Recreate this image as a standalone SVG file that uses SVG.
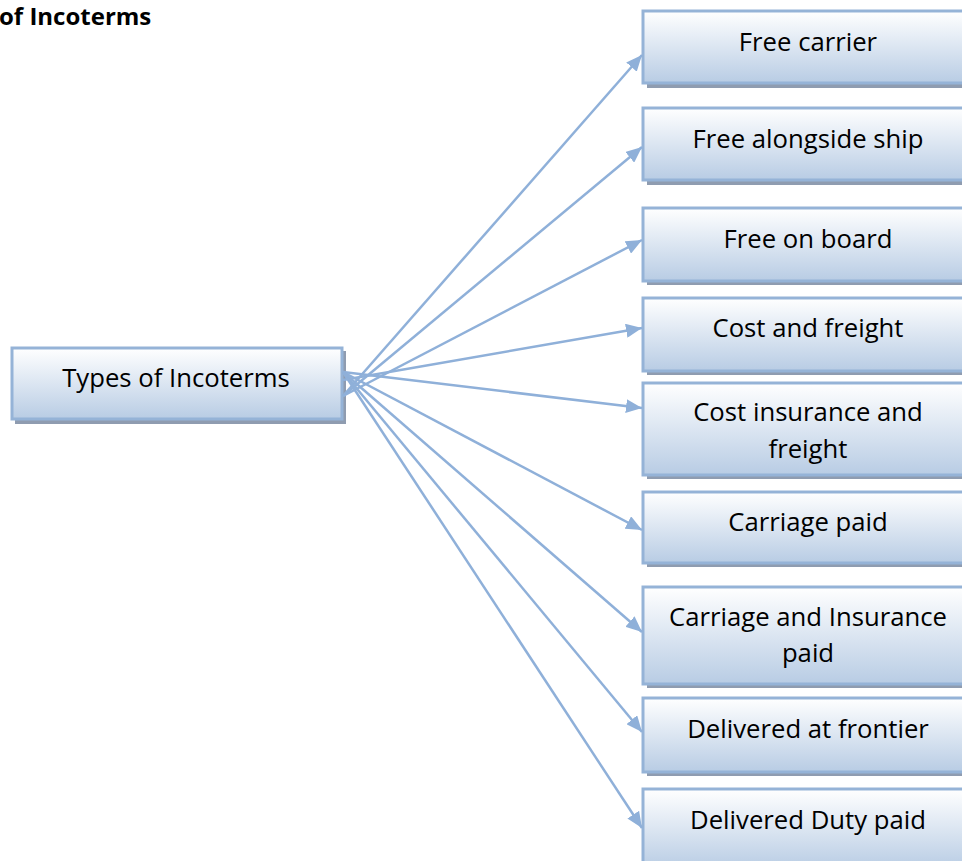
<svg xmlns="http://www.w3.org/2000/svg" width="962" height="861" viewBox="0 0 962 861">
<defs>
<linearGradient id="g" x1="0" y1="0" x2="0" y2="1">
<stop offset="0" stop-color="#ffffff"/>
<stop offset="1" stop-color="#b8cce4"/>
</linearGradient>
<marker id="ah" markerWidth="16" markerHeight="14" refX="16" refY="7" orient="auto" markerUnits="userSpaceOnUse">
<path d="M0,0 L16,7 L0,14 Z" fill="#8fb0d9"/>
</marker>
<style>
.box{fill:url(#g);stroke:#95b3d7;stroke-width:3}
.sh{fill:#8f9cb0}
.t{font-family:"Open Sans","Liberation Sans",sans-serif;font-size:25.7px;fill:#000;text-anchor:middle}
.title{font-family:"Open Sans","Liberation Sans",sans-serif;font-size:24px;font-weight:bold;fill:#000}
.c line{stroke:#8fb0d9;stroke-width:2.5;marker-end:url(#ah)}
</style>
</defs>
<rect width="962" height="861" fill="#fff"/>
<text class="title" x="-1" y="25">of Incoterms</text>

<g id="source">
<rect class="sh" x="15" y="351" width="331" height="73"/>
<rect class="box" x="12" y="348" width="330" height="71"/>
<text class="t" x="176" y="387">Types of Incoterms</text>
</g>

<g id="n1"><rect class="sh" x="647" y="15" width="330" height="73"/><rect class="box" x="643" y="11" width="330" height="72"/><text class="t" x="808" y="51">Free carrier</text></g>
<g id="n2"><rect class="sh" x="647" y="112" width="330" height="73"/><rect class="box" x="643" y="108" width="330" height="72"/><text class="t" x="808" y="148">Free alongside ship</text></g>
<g id="n3"><rect class="sh" x="647" y="212" width="330" height="73"/><rect class="box" x="643" y="208" width="330" height="73"/><text class="t" x="808" y="248">Free on board</text></g>
<g id="n4"><rect class="sh" x="647" y="302" width="330" height="73"/><rect class="box" x="643" y="298" width="330" height="73"/><text class="t" x="808" y="337">Cost and freight</text></g>
<g id="n5"><rect class="sh" x="647" y="387" width="330" height="92"/><rect class="box" x="643" y="383" width="330" height="92"/><text class="t" x="808" y="421">Cost insurance and</text><text class="t" x="808" y="458">freight</text></g>
<g id="n6"><rect class="sh" x="647" y="496" width="330" height="71"/><rect class="box" x="643" y="492" width="330" height="71"/><text class="t" x="808" y="531">Carriage paid</text></g>
<g id="n7"><rect class="sh" x="647" y="591" width="330" height="97"/><rect class="box" x="643" y="587" width="330" height="97"/><text class="t" x="808" y="626">Carriage and Insurance</text><text class="t" x="808" y="662">paid</text></g>
<g id="n8"><rect class="sh" x="647" y="702" width="330" height="74"/><rect class="box" x="643" y="698" width="330" height="74"/><text class="t" x="808" y="738">Delivered at frontier</text></g>
<g id="n9"><rect class="sh" x="647" y="793" width="330" height="80"/><rect class="box" x="643" y="789" width="330" height="80"/><text class="t" x="808" y="829">Delivered Duty paid</text></g>

<g id="connectors" class="c">
<line x1="343" y1="396" x2="642" y2="55"/>
<line x1="343" y1="396" x2="642" y2="147"/>
<line x1="343" y1="396" x2="642" y2="240"/>
<line x1="343" y1="380" x2="642" y2="328"/>
<line x1="343" y1="372" x2="642" y2="408"/>
<line x1="343" y1="372" x2="642" y2="530"/>
<line x1="343" y1="372" x2="642" y2="632"/>
<line x1="343" y1="372" x2="642" y2="732"/>
<line x1="343" y1="372" x2="642" y2="828"/>
</g>
</svg>
